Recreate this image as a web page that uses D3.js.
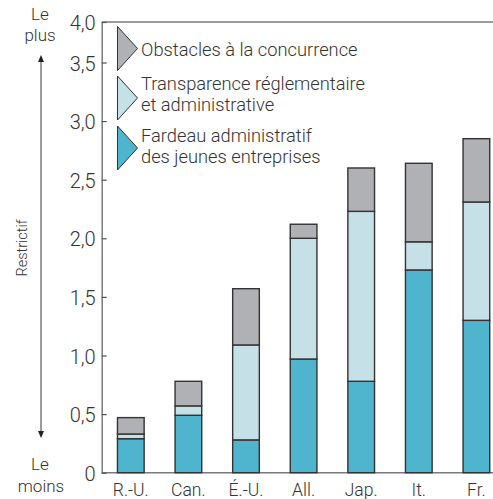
<!DOCTYPE html>
<html>
<head>
<meta charset="utf-8">
<script src="https://cdn.jsdelivr.net/npm/d3@7"></script>
<style>
  body { margin: 0; background: #fff; }
  svg { display: block; }
  text { font-family: Roboto, "Liberation Sans", Arial, sans-serif; font-weight: 300; fill: #333; }
</style>
</head>
<body>
<svg width="493" height="499"></svg>
<script>
// categories (countries) and the three stacked components
var categories = ["R.-U.", "Can.", "É.-U.", "All.", "Jap.", "It.", "Fr."];
var fardeau = [0.29, 0.49, 0.28, 0.97, 0.78, 1.73, 1.30];
var transparence = [0.04, 0.08, 0.81, 1.03, 1.45, 0.24, 1.01];
var obstacles = [0.14, 0.21, 0.48, 0.12, 0.37, 0.67, 0.54];
var seriesNames = ["Obstacles à la concurrence",
                   ["Transparence réglementaire", "et administrative"],
                   ["Fardeau administratif", "des jeunes entreprises"]];
var tickValues = [0, 0.5, 1, 1.5, 2, 2.5, 3, 3.5, 4];

var colors = { fardeau: "#4fb4ce", transparence: "#c6e0e8", obstacles: "#b0b1b5" };

var svg = d3.select("svg");

var rows = categories.map(function(c, i) {
    return { cat: c, fardeau: fardeau[i], transparence: transparence[i], obstacles: obstacles[i] };
});

var stack = d3.stack().keys(["fardeau", "transparence", "obstacles"]);
var layers = stack(rows);

// axis is squeezed between 3,5 and 4,0 in the original
var y = d3.scaleLinear()
    .domain([0, 3.5, 4])
    .range([472.7, 62.5, 22]);

var x = d3.scaleBand()
    .domain(categories)
    .range([102, 102 + 7 * 57.6])
    .paddingInner(0.537)
    .paddingOuter(0.2685);

var fmt = d3.formatLocale({ decimal: ",", thousands: " ", grouping: [3], currency: ["", "€"] }).format(".1f");

// frame: top line and baseline
svg.append("line")
    .attr("x1", 101.7).attr("x2", 493)
    .attr("y1", y(4)).attr("y2", y(4))
    .attr("stroke", "#7a7a7a").attr("stroke-width", 1.5);

svg.append("line")
    .attr("x1", 101.7).attr("x2", 493)
    .attr("y1", y(0)).attr("y2", y(0))
    .attr("stroke", "#7a7a7a").attr("stroke-width", 1.5);

// y axis
var yAxis = d3.axisLeft(y)
    .tickValues(tickValues)
    .tickSizeInner(-5)
    .tickSizeOuter(0)
    .tickPadding(6)
    .tickFormat(function(d) { return d === 0 ? "0" : fmt(d); });

var gy = svg.append("g")
    .attr("transform", "translate(101.7,0)")
    .call(yAxis);
gy.select(".domain").attr("stroke", "#7a7a7a").attr("stroke-width", 1.5);
gy.selectAll(".tick line").attr("stroke", "#555").attr("stroke-width", 1.2);
gy.selectAll(".tick text")
    .attr("font-size", 20)
    .attr("font-family", null)
    .attr("dy", "0.38em")
    .attr("fill", "#333");

// bars
var layerG = svg.append("g")
  .selectAll("g")
  .data(layers)
  .enter().append("g")
    .attr("fill", function(d) { return colors[d.key]; });

layerG.selectAll("rect")
  .data(function(d) { return d; })
  .enter().append("rect")
    .attr("x", function(d) { return x(d.data.cat); })
    .attr("width", x.bandwidth())
    .attr("y", function(d) { return y(d[1]); })
    .attr("height", function(d) { return y(d[0]) - y(d[1]); })
    .attr("stroke", "#333")
    .attr("stroke-width", 1.4);

// category labels
svg.append("g")
  .selectAll("text")
  .data(categories)
  .enter().append("text")
    .attr("x", function(d) { return x(d) + x.bandwidth() / 2; })
    .attr("y", 496)
    .attr("text-anchor", "middle")
    .attr("font-size", 17.5)
    .text(function(d) { return d; });

// legend
var legend = [
    { color: colors.obstacles, top: 26.5, lines: [seriesNames[0]], ty: 56 },
    { color: colors.transparence, top: 76, lines: seriesNames[1], ty: 89.5 },
    { color: colors.fardeau, top: 126, lines: seriesNames[2], ty: 141.5 }
];
var lg = svg.append("g").selectAll("g").data(legend).enter().append("g");
lg.append("path")
    .attr("d", function(d) {
        return "M117.5," + d.top + "L137.5," + (d.top + 22) + "L117.5," + (d.top + 44) + "Z";
    })
    .attr("fill", function(d) { return d.color; })
    .attr("stroke", "#333")
    .attr("stroke-width", 1);
lg.each(function(d) {
    var t = d3.select(this).append("text")
        .attr("x", 141)
        .attr("y", d.ty)
        .attr("font-size", 18.3);
    d.lines.forEach(function(l, i) {
        t.append("tspan").attr("x", 141).attr("dy", i === 0 ? 0 : 21.5).text(l);
    });
});

// left arrow: le plus / le moins
svg.append("line")
    .attr("x1", 41).attr("x2", 41)
    .attr("y1", 60).attr("y2", 433)
    .attr("stroke", "#7a7a7a").attr("stroke-width", 1.5);
svg.append("path").attr("d", "M41,55L38,62L44,62Z").attr("fill", "#222");
svg.append("path").attr("d", "M41,438L38,431L44,431Z").attr("fill", "#222");

svg.append("text").attr("x", 40).attr("y", 20).attr("text-anchor", "middle").attr("font-size", 17).text("Le");
svg.append("text").attr("x", 40).attr("y", 41).attr("text-anchor", "middle").attr("font-size", 17).text("plus");
svg.append("text").attr("x", 40).attr("y", 470).attr("text-anchor", "middle").attr("font-size", 17).text("Le");
svg.append("text").attr("x", 41).attr("y", 492).attr("text-anchor", "middle").attr("font-size", 17).text("moins");

svg.append("text")
    .attr("transform", "translate(27,248) rotate(-90)")
    .attr("text-anchor", "middle")
    .attr("font-size", 14.5)
    .text("Restrictif");
</script>
</body>
</html>
